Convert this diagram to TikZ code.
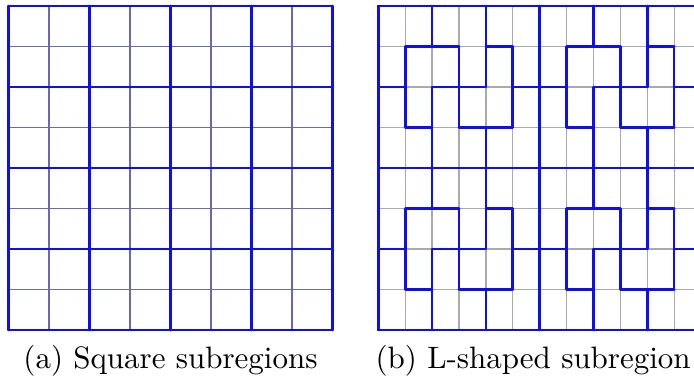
\documentclass[tikz,border=0pt]{standalone}
\usetikzlibrary{positioning}
\definecolor{gridblue}{RGB}{15,15,235}
\definecolor{thinblue}{RGB}{105,105,175}
\definecolor{thingray}{RGB}{170,170,170}

\begin{document}
\begin{tikzpicture}[
    x=13.07pt, y=13.07pt,
    coarse/.style={draw=gridblue, line width=0.85pt, line cap=round},
    fine/.style={draw=thinblue, line width=0.4pt},
    finegray/.style={draw=thingray, line width=0.4pt},
    caption/.style={inner sep=0pt, font=\normalsize}
]
    \useasboundingbox (-0.21,-1.235) rectangle (16.926,8.148);
    \clip (-0.21,-1.235) rectangle (16.926,8.148);

    % (a) square subregions
    \foreach \i in {1,3,5,7} {
        \draw[fine] (\i,0) -- (\i,8);
        \draw[fine] (0,\i) -- (8,\i);
    }
    \foreach \i in {0,2,...,8} {
        \draw[coarse] (\i,0) -- (\i,8);
        \draw[coarse] (0,\i) -- (8,\i);
    }
    \node[caption, anchor=base] (capa) at (4,-0.963) {(a) Square subregions};

    % (b) L-shaped subregions
    \begin{scope}[xshift=119.34pt, x=8.68pt]
        \foreach \c in {1,...,11}
            \draw[finegray] (\c,0) -- (\c,8);
        \foreach \r in {1,...,7}
            \draw[finegray] (0,\r) -- (12,\r);
        \draw[coarse] (0,0) rectangle (12,8);
        \draw[coarse] (6,0) -- (6,8) (0,4) -- (12,4);
        % one 6x4 block of eight L-trominoes, repeated
        \foreach \dx in {0,6} {
            \foreach \dy in {0,4} {
                \draw[coarse, shift={(\dx,\dy)}]
                    (1,3) -- (3,3) (4,3) -- (5,3)
                    (0,2) -- (1,2) (2,2) -- (4,2) (5,2) -- (6,2)
                    (1,1) -- (2,1) (3,1) -- (5,1)
                    (1,3) -- (1,1) (2,4) -- (2,3) (2,2) -- (2,0)
                    (3,3) -- (3,1) (4,4) -- (4,2) (4,1) -- (4,0)
                    (5,3) -- (5,1);
            }
        }
    \end{scope}
    \node[caption, anchor=base west] (capb) at (9.05,-0.963) {(b) L-shaped subregion};
\end{tikzpicture}
\end{document}
